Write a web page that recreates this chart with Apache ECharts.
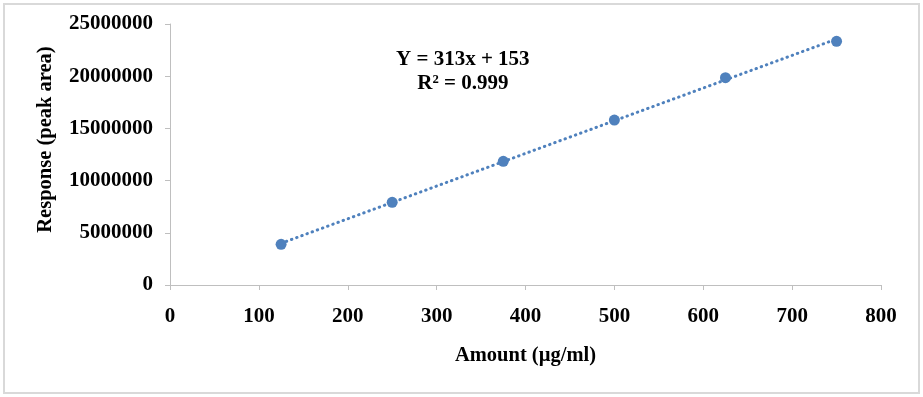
<!DOCTYPE html>
<html>
<head>
    <meta charset="utf-8">
    <title>Calibration curve</title>
    <script src="https://cdn.jsdelivr.net/npm/echarts@6/dist/echarts.min.js"></script>
    <style>
        html, body { margin: 0; padding: 0; background: #fff; }
        #main { position: absolute; left: 3px; top: 3px; width: 913px; height: 387px; border: 2px solid #d9d9d9; }
    </style>
</head>
<body>
    <div id="main"></div>
    <script type="text/javascript">
        // data
        var amounts = [125, 250, 375, 500, 625, 750];
        var responses = [3900000, 7920000, 11850000, 15800000, 19860000, 23340000];
        var equationText = 'Y = 313x + 153';
        var r2Text = 'R² = 0.999';

        // least squares trend line through the points
        var n = amounts.length, sx = 0, sy = 0, sxy = 0, sxx = 0;
        for (var i = 0; i < n; i++) {
            sx += amounts[i]; sy += responses[i];
            sxy += amounts[i] * responses[i]; sxx += amounts[i] * amounts[i];
        }
        var slope = (n * sxy - sx * sy) / (n * sxx - sx * sx);
        var icpt = (sy - slope * sx) / n;
        var xa = amounts[0], xb = amounts[n - 1];
        var trend = [[xa, slope * xa + icpt], [xb, slope * xb + icpt]];

        var points = [];
        for (var j = 0; j < n; j++) points.push([amounts[j], responses[j]]);

        var font = 'Liberation Serif, Times New Roman, serif';
        var myChart = echarts.init(document.getElementById('main'));
        var option = {
            animation: false,
            grid: { left: 165, right: 37, top: 19, bottom: 107 },
            xAxis: {
                type: 'value', min: 0, max: 800, interval: 100,
                name: 'Amount (µg/ml)', nameLocation: 'middle', nameGap: 60,
                nameTextStyle: { fontFamily: font, fontWeight: 'bold', fontSize: 20.5, color: '#000' },
                axisLine: { show: true, lineStyle: { color: '#bfbfbf', width: 1 } },
                axisTick: { show: true, length: 5, lineStyle: { color: '#bfbfbf' } },
                axisLabel: { fontFamily: font, fontWeight: 'bold', fontSize: 21, color: '#000', margin: 21 },
                splitLine: { show: false }
            },
            yAxis: {
                type: 'value', min: 0, max: 25000000, interval: 5000000,
                name: 'Response (peak area)', nameLocation: 'middle', nameGap: 114,
                nameTextStyle: {
                    fontFamily: font, fontWeight: 'bold', fontSize: 20.5, color: '#000',
                    padding: [0, 0, 0, 30]
                },
                axisLine: { show: true, lineStyle: { color: '#bfbfbf', width: 1 } },
                axisTick: { show: true, length: 5, lineStyle: { color: '#bfbfbf' } },
                axisLabel: {
                    fontFamily: font, fontWeight: 'bold', fontSize: 21, color: '#000', margin: 17,
                    formatter: function (v) { return String(v); }
                },
                splitLine: { show: false }
            },
            graphic: [{
                type: 'text', left: 391, top: 43,
                style: {
                    text: equationText + '\n' + r2Text, textAlign: 'center',
                    font: 'bold 21px ' + font, fill: '#000', lineHeight: 24
                }
            }],
            series: [{
                type: 'line', data: trend, symbol: 'none', silent: true,
                lineStyle: { color: '#4f81bd', width: 3, type: [0.5, 5], cap: 'round' },
                z: 1
            }, {
                type: 'scatter', data: points, symbol: 'circle', symbolSize: 11,
                itemStyle: { color: '#4f81bd', opacity: 1 },
                z: 2
            }]
        };
        myChart.setOption(option);
    </script>
</body>
</html>
